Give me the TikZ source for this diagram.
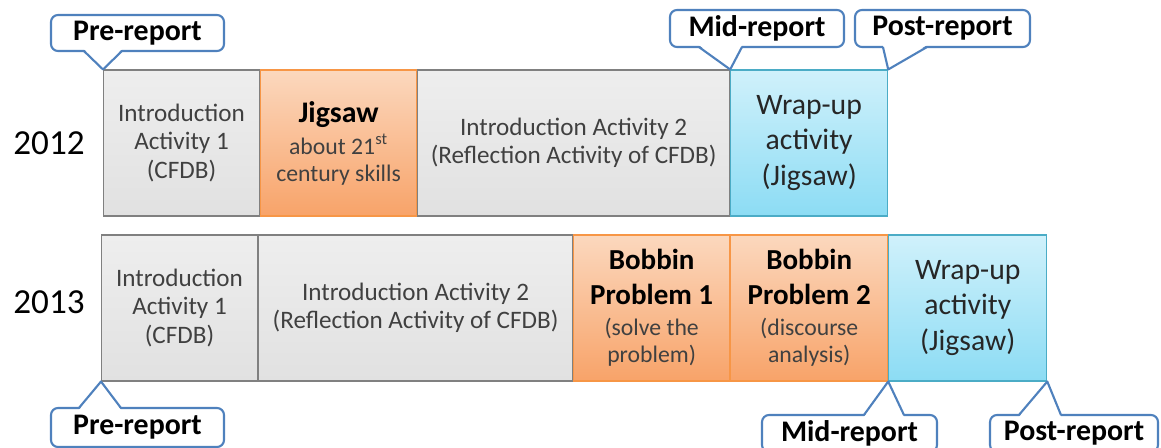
\documentclass[tikz,border=0pt]{standalone}
\usepackage{fontspec}
\setmainfont{Carlito}
\usetikzlibrary{positioning, calc}

\definecolor{calloutblue}{RGB}{79,129,189}
\definecolor{boxgray}{RGB}{128,128,128}
\definecolor{graytop}{RGB}{238,238,238}
\definecolor{graybot}{RGB}{225,225,225}
\definecolor{orangeline}{RGB}{247,150,70}
\definecolor{orangetop}{RGB}{251,216,190}
\definecolor{orangebot}{RGB}{248,163,105}
\definecolor{blueline}{RGB}{75,172,198}
\definecolor{bluetop}{RGB}{208,241,251}
\definecolor{bluebot}{RGB}{140,220,244}
\definecolor{softtext}{RGB}{64,64,64}

\tikzset{
    activitybox/.style={
        rectangle,
        minimum height=2.92cm,
        inner sep=0pt,
        align=center,
        line width=0.6pt
    },
    introbox/.style={
        activitybox,
        draw=boxgray,
        top color=graytop,
        bottom color=graybot,
        text=softtext,
        font=\fontsize{14.3}{16}\selectfont
    },
    taskbox/.style={
        activitybox,
        draw=orangeline,
        top color=orangetop,
        bottom color=orangebot,
        text=softtext,
        font=\fontsize{13.5}{15.4}\selectfont
    },
    wrapbox/.style={
        activitybox,
        draw=blueline,
        top color=bluetop,
        bottom color=bluebot,
        text=black!85,
        font=\fontsize{16.9}{20}\selectfont
    },
    yearlabel/.style={
        font=\fontsize{20}{24}\selectfont
    },
    reportlabel/.style={
        rectangle,
        rounded corners=4pt,
        draw=calloutblue,
        line width=1.2pt,
        fill=white,
        minimum height=0.74cm,
        inner sep=0pt,
        font=\fontsize{17}{20}\selectfont\bfseries
    },
    reportpointer/.style={
        draw=calloutblue,
        line width=1.2pt,
        line join=round
    }
}
\newcommand{\tasktitle}[1]{{\color{black}\bfseries\fontsize{16.5}{20}\selectfont #1}}

\begin{document}
\begin{tikzpicture}
    \useasboundingbox (0,0) rectangle (23.22,-8.96);

    % 2012
    \node[yearlabel] (y2012) at (0.98,-2.86) {2012};
    \node[introbox, minimum width=3.12cm, anchor=west] (intro1a) at (2.06,-2.86) {Introduction\\Activity 1\\(CFDB)};
    \node[taskbox, minimum width=3.12cm, right=0pt of intro1a] (jigsaw) {{\color{black}\bfseries\fontsize{17}{20}\selectfont Jigsaw}\\[2.8pt]about 21\textsuperscript{st}\\century skills};
    \node[introbox, minimum width=6.24cm, right=0pt of jigsaw] (intro2a) {Introduction Activity 2\\(Reflection Activity of CFDB)};
    \node[wrapbox, minimum width=3.14cm, right=0pt of intro2a] (wrap1a) {Wrap-up\\activity\\(Jigsaw)};

    % 2013
    \node[yearlabel] (y2013) at (0.98,-6.04) {2013};
    \node[introbox, minimum width=3.12cm, anchor=west] (intro1b) at (2.02,-6.16) {Introduction\\Activity 1\\(CFDB)};
    \node[introbox, minimum width=6.28cm, right=0pt of intro1b] (intro2b) {Introduction Activity 2\\(Reflection Activity of CFDB)};
    \node[taskbox, minimum width=3.12cm, right=0pt of intro2b] (bobbin1) {\tasktitle{Bobbin}\\[4.6pt]\tasktitle{Problem 1}\\[2.2pt](solve the\\problem)};
    \node[taskbox, minimum width=3.14cm, right=0pt of bobbin1] (bobbin2) {\tasktitle{Bobbin}\\[4.6pt]\tasktitle{Problem 2}\\[2.2pt](discourse\\analysis)};
    \node[wrapbox, minimum width=3.16cm, right=0pt of bobbin2] (wrap2b) {Wrap-up\\activity\\(Jigsaw)};

    % report callouts
    \node[reportlabel, minimum width=3.46cm, minimum height=0.72cm] (pretop) at (2.75,-0.66) {Pre-report};
    \node[reportlabel, minimum width=3.48cm] (midtop) at (15.14,-0.57) {Mid-report};
    \node[reportlabel, minimum width=3.5cm] (posttop) at (18.85,-0.57) {Post-report};
    \node[reportlabel, minimum width=3.46cm, minimum height=0.78cm] (prebot) at (2.75,-8.55) {Pre-report};
    \node[reportlabel, minimum width=3.5cm] (midbot) at (16.99,-8.67) {Mid-report};
    \node[reportlabel, minimum width=3.36cm] (postbot) at (21.48,-8.67) {Post-report};

    % pointers
    \fill[white] ($(pretop.south west)+(0.68,0.06)$) -- (intro1a.north west) -- ($(pretop.south west)+(1.44,0.06)$) -- cycle;
    \draw[reportpointer] ($(pretop.south west)+(0.68,0.02)$) -- (intro1a.north west) -- ($(pretop.south west)+(1.44,0.02)$);
    \fill[white] ($(midtop.south west)+(0.60,0.06)$) -- (wrap1a.north west) -- ($(midtop.south west)+(1.46,0.06)$) -- cycle;
    \draw[reportpointer] ($(midtop.south west)+(0.60,0.02)$) -- (wrap1a.north west) -- ($(midtop.south west)+(1.46,0.02)$);
    \fill[white] ($(posttop.south west)+(0.58,0.06)$) -- (wrap1a.north east) -- ($(posttop.south west)+(1.46,0.06)$) -- cycle;
    \draw[reportpointer] ($(posttop.south west)+(0.58,0.02)$) -- (wrap1a.north east) -- ($(posttop.south west)+(1.46,0.02)$);

    \fill[white] ($(prebot.north west)+(0.58,-0.06)$) -- (intro1b.south west) -- ($(prebot.north west)+(1.42,-0.06)$) -- cycle;
    \draw[reportpointer] ($(prebot.north west)+(0.58,-0.02)$) -- (intro1b.south west) -- ($(prebot.north west)+(1.42,-0.02)$);
    \fill[white] ($(midbot.north west)+(2.06,-0.06)$) -- (wrap2b.south west) -- ($(midbot.north west)+(2.86,-0.06)$) -- cycle;
    \draw[reportpointer] ($(midbot.north west)+(2.06,-0.02)$) -- (wrap2b.south west) -- ($(midbot.north west)+(2.86,-0.02)$);
    \fill[white] ($(postbot.north west)+(0.60,-0.06)$) -- (wrap2b.south east) -- ($(postbot.north west)+(1.44,-0.06)$) -- cycle;
    \draw[reportpointer] ($(postbot.north west)+(0.60,-0.02)$) -- (wrap2b.south east) -- ($(postbot.north west)+(1.44,-0.02)$);
\end{tikzpicture}
\end{document}
